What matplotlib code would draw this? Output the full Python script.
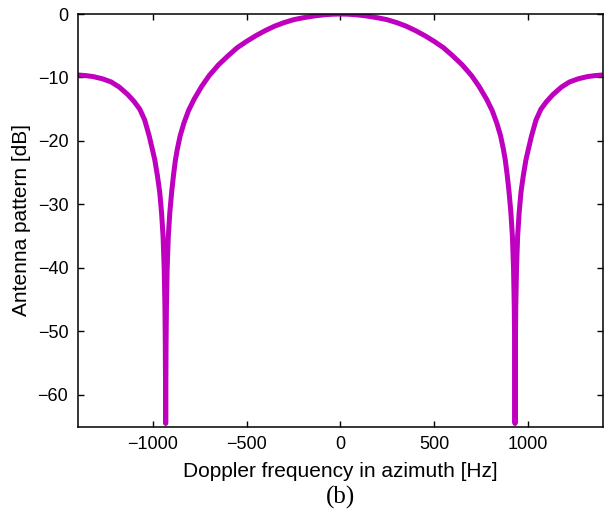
import matplotlib
matplotlib.use("Agg")
import matplotlib.pyplot as plt

# values (Hz, dB)
freq_hz = [-1400, -1360, -1320, -1270, -1223, -1180, -1134, -1100, -1070, -1044,
           -1020, -1004, -990, -976, -964, -954, -946, -940, -936, -934,
           -933, -932, -931, -930, -928, -924, -918, -910, -900, -890,
           -880, -870, -855, -835, -810, -780, -740, -700, -650, -600,
           -550, -500, -450, -400, -350, -300, -250, -200, -160, -125,
           -80, -40, 0,
           40, 80, 125, 160, 200, 250, 300, 350, 400, 450,
           500, 550, 600, 650, 700, 740, 780, 810, 835, 855,
           870, 880, 890, 900, 910, 918, 924, 928, 930, 931,
           932, 933, 934, 936, 940, 946, 954, 964, 976, 990,
           1004, 1020, 1044, 1070, 1100, 1134, 1180, 1223, 1270, 1320,
           1360, 1400]
pattern_db = [-9.6, -9.7, -9.85, -10.2, -10.7, -11.5, -12.7, -13.8, -15.0, -16.7,
              -19.2, -21.2, -23.0, -25.5, -28.0, -31.3, -35.0, -40.0, -46.1, -52.1,
              -58.1, -64.5, -58.1, -52.1, -46.1, -40.0, -35.0, -31.3, -28.0, -25.3,
              -23.0, -21.3, -19.2, -17.2, -15.2, -13.4, -11.4, -9.7, -8.0, -6.6,
              -5.3, -4.3, -3.4, -2.6, -1.9, -1.35, -0.9, -0.6, -0.4, -0.25,
              -0.1, -0.03, 0.0,
              -0.03, -0.1, -0.25, -0.4, -0.6, -0.9, -1.35, -1.9, -2.6, -3.4,
              -4.3, -5.3, -6.6, -8.0, -9.7, -11.4, -13.4, -15.2, -17.2, -19.2,
              -21.3, -23.0, -25.3, -28.0, -31.3, -35.0, -40.0, -46.1, -52.1, -58.1,
              -64.5, -58.1, -52.1, -46.1, -40.0, -35.0, -31.3, -28.0, -25.5, -23.0,
              -21.2, -19.2, -16.7, -15.0, -13.8, -12.7, -11.5, -10.7, -10.2, -9.85,
              -9.7, -9.6]

xticks = [-1000, -500, 0, 500, 1000]
yticks = [0, -10, -20, -30, -40, -50, -60]

plt.rcParams["font.family"] = ["Liberation Sans", "DejaVu Sans"]

fig = plt.figure(figsize=(6.04, 5.17), dpi=100)
ax = fig.add_axes([0.1291, 0.1747, 0.8688, 0.7982])

ax.plot(freq_hz, pattern_db, color="#bf00bf", lw=3.6,
        solid_joinstyle="round", solid_capstyle="butt")

ax.set_xlim(-1400, 1400)
ax.set_ylim(-65, 0)
ax.set_xticks(xticks)
ax.set_yticks(yticks)
ax.tick_params(direction="in", top=True, right=True, length=4, width=1,
               labelsize=13, pad=7)
for s in ax.spines.values():
    s.set_linewidth(1.1)

ax.set_xlabel("Doppler frequency in azimuth [Hz]", fontsize=15, labelpad=6)
ax.set_ylabel("Antenna pattern [dB]", fontsize=15, labelpad=5)
fig.text(0.564, 0.037, "(b)", family="Liberation Serif", fontsize=18,
         ha="center", va="center")

fig.savefig("out.png", dpi=100)
